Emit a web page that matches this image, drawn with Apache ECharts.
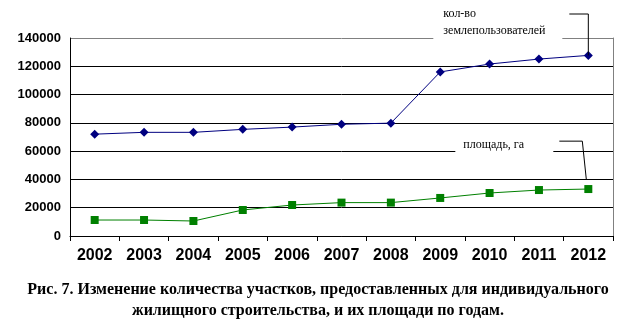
<!DOCTYPE html>
<html><head><meta charset="utf-8">
<script src="https://cdn.jsdelivr.net/npm/echarts@6/dist/echarts.min.js"></script>
<style>html,body{margin:0;padding:0;background:#fff}#c{width:630px;height:334px}</style>
</head><body><div id="c"></div>
<script>
const years = ['2002','2003','2004','2005','2006','2007','2008','2009','2010','2011','2012'];
const usersCount = [72000, 73300, 73300, 75400, 77000, 79000, 79800, 116000, 121600, 125100, 127700];
const areaHa = [11300, 11300, 10600, 18400, 21900, 23600, 23600, 26900, 30400, 32500, 33200];
const yTicks = [0, 20000, 40000, 60000, 80000, 100000, 120000, 140000];
const usersLabel = ['кол-во', 'землепользователей'];
const areaLabel = 'площадь, га';
const captionLines = ['Рис. 7. Изменение количества участков, предоставленных для индивидуального', 'жилищного строительства, и их площади по годам.'];

const chart = echarts.init(document.getElementById('c'), null, {renderer: 'canvas'});
chart.setOption({
  animation: false,
  backgroundColor: '#fff',
  grid: {left: 70, right: 17, top: 38, bottom: 98},
  xAxis: {
    type: 'category', data: years, boundaryGap: true,
    axisLine: {lineStyle: {color: '#000', width: 1}},
    axisTick: {show: true, interval: 0, length: 5, lineStyle: {color: '#000'}},
    axisLabel: {interval: 0, margin: 12, color: '#000', fontFamily: 'Liberation Sans', fontWeight: 'bold', fontSize: 16}
  },
  yAxis: [{
    type: 'value', min: yTicks[0], max: yTicks[yTicks.length - 1], interval: yTicks[1] - yTicks[0],
    axisLine: {show: true, lineStyle: {color: '#000', width: 1}},
    axisTick: {show: false},
    axisLabel: {margin: 9, color: '#000', fontFamily: 'Liberation Sans', fontWeight: 'bold', fontSize: 13, formatter: v => String(v)},
    splitLine: {show: true, lineStyle: {color: ['#000','#000','#000','#000','#000','#000','#000','#808080'], width: 1}}
  }, {
    type: 'value', min: yTicks[0], max: yTicks[yTicks.length - 1], position: 'right',
    axisLine: {show: true, lineStyle: {color: '#808080', width: 1}},
    axisTick: {show: false}, axisLabel: {show: false}, splitLine: {show: false}
  }],
  series: [{
    name: 'users', type: 'line', data: usersCount,
    symbol: 'diamond', symbolSize: 9,
    lineStyle: {color: '#000080', width: 1}, itemStyle: {color: '#000080'}
  }, {
    name: 'area', type: 'line', data: areaHa,
    symbol: 'rect', symbolSize: 8,
    lineStyle: {color: '#008000', width: 1}, itemStyle: {color: '#008000'}
  }]
});

const last = years.length - 1;
const pU = chart.convertToPixel({gridIndex: 0}, [last, usersCount[last]]);
const pA = chart.convertToPixel({gridIndex: 0}, [last, areaHa[last]]);
const p60 = chart.convertToPixel({yAxisIndex: 0}, 60000);
const p140 = chart.convertToPixel({yAxisIndex: 0}, 140000);
const p40 = chart.convertToPixel({yAxisIndex: 0}, 40000);
const lblFont = '12px "Liberation Serif"';
chart.setOption({
  graphic: [
    {type: 'rect', shape: {x: pU[0] - 155, y: p140 - 3, width: 129, height: 6}, style: {fill: '#fff'}, z: 100},
    {type: 'rect', shape: {x: pA[0] - 133, y: p60 - 3, width: 98, height: 6}, style: {fill: '#fff'}, z: 100},
    {type: 'text', x: pU[0] - 145, y: 14, style: {text: usersLabel[0], font: lblFont, fill: '#000', verticalAlign: 'middle'}, z: 101},
    {type: 'text', x: pU[0] - 145, y: 31, style: {text: usersLabel[1], font: lblFont, fill: '#000', verticalAlign: 'middle'}, z: 101},
    {type: 'polyline', shape: {points: [[pU[0] - 19, 14], [pU[0], 14], [pU[0], pU[1]]]}, style: {stroke: '#000', lineWidth: 1, fill: null}, z: 101},
    {type: 'text', x: pA[0] - 125, y: p60 - 6, style: {text: areaLabel, font: lblFont, fill: '#000', verticalAlign: 'middle'}, z: 101},
    {type: 'polyline', shape: {points: [[pA[0] - 29, p60 - 10], [pA[0] - 6, p60 - 10], [pA[0] - 2, p40]]}, style: {stroke: '#000', lineWidth: 1, fill: null}, z: 101},
    {type: 'text', x: 318, y: 290, style: {text: captionLines[0], font: 'bold 16px "Liberation Serif"', fill: '#000', align: 'center', verticalAlign: 'middle'}, z: 101},
    {type: 'text', x: 318, y: 311, style: {text: captionLines[1], font: 'bold 16px "Liberation Serif"', fill: '#000', align: 'center', verticalAlign: 'middle'}, z: 101}
  ]
});
</script></body></html>
